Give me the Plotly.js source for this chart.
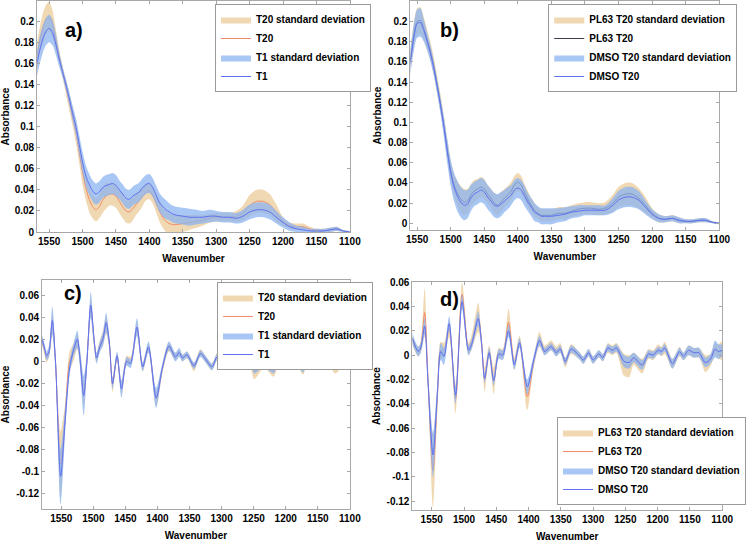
<!DOCTYPE html>
<html><head><meta charset="utf-8">
<script src="https://cdn.plot.ly/plotly-3.0.1.min.js"></script>
<style>html,body{margin:0;padding:0;background:#fff}#chart{width:746px;height:543px}</style>
</head><body><div id="chart"></div>
<script>
// ---------- Panels a) and b): wavenumber grid ----------
const wnAB = [1570,1565,1560,1555,1550,1545,1540,1535,1530,1525,1520,1515,1510,1505,1500,1495,1490,1485,1480,1475,1470,1465,1460,1455,1450,1445,1440,1435,1430,1425,1420,1415,1410,1405,1400,1395,1390,1385,1380,1375,1370,1365,1360,
  1350,1340,1330,1320,1310,1300,1290,1280,1270,1260,1250,1240,1230,1220,1210,1200,1190,1180,1170,1160,1150,1140,1130,1120,1110,1100];

// a) T20 and T1
const aT20 = [0.160,0.178,0.192,0.201,0.204,0.197,0.182,0.166,0.152,0.138,0.124,0.110,0.095,0.076,0.057,0.042,0.031,0.024,0.021,0.024,0.030,0.034,0.036,0.036,0.034,0.029,0.024,0.020,0.019,0.022,0.026,0.030,0.034,0.038,0.039,0.035,0.028,0.020,0.014,0.010,0.008,0.007,0.007,
  0.008,0.009,0.010,0.011,0.013,0.014,0.014,0.014,0.015,0.018,0.025,0.029,0.029,0.026,0.018,0.010,0.006,0.005,0.005,0.003,0.001,0.001,0.002,0.003,0.001,0.000];
const aT20sd = [0.012,0.013,0.014,0.014,0.014,0.013,0.010,0.007,0.006,0.007,0.008,0.009,0.010,0.011,0.012,0.012,0.012,0.011,0.011,0.011,0.012,0.012,0.011,0.011,0.011,0.011,0.011,0.011,0.011,0.011,0.010,0.010,0.009,0.008,0.008,0.008,0.009,0.010,0.010,0.010,0.010,0.009,0.009,
  0.008,0.007,0.006,0.005,0.004,0.004,0.004,0.004,0.005,0.007,0.010,0.011,0.011,0.010,0.008,0.004,0.003,0.003,0.003,0.002,0.002,0.002,0.002,0.002,0.001,0.001];
const aT1 = [0.155,0.170,0.182,0.190,0.193,0.189,0.178,0.164,0.152,0.140,0.127,0.113,0.100,0.083,0.066,0.053,0.045,0.039,0.036,0.038,0.042,0.044,0.045,0.046,0.044,0.040,0.036,0.032,0.031,0.034,0.036,0.038,0.042,0.045,0.046,0.042,0.035,0.028,0.024,0.021,0.019,0.017,0.016,
  0.015,0.014,0.014,0.014,0.015,0.015,0.014,0.014,0.013,0.015,0.019,0.021,0.021,0.019,0.014,0.009,0.005,0.003,0.002,0.001,0.001,0.001,0.002,0.003,0.001,0.000];
const aT1sd = [0.012,0.013,0.013,0.013,0.013,0.012,0.010,0.007,0.005,0.005,0.006,0.007,0.008,0.009,0.010,0.010,0.010,0.010,0.010,0.010,0.010,0.010,0.010,0.010,0.010,0.009,0.009,0.009,0.009,0.009,0.009,0.009,0.009,0.009,0.009,0.009,0.009,0.009,0.009,0.009,0.008,0.008,0.008,
  0.008,0.008,0.007,0.006,0.006,0.005,0.005,0.005,0.005,0.006,0.007,0.007,0.007,0.007,0.006,0.005,0.004,0.003,0.003,0.002,0.002,0.002,0.002,0.002,0.001,0.001];

// b) PL63 T20 and DMSO T20
const bPL63 = [0.130,0.147,0.163,0.186,0.200,0.201,0.193,0.182,0.170,0.155,0.137,0.118,0.097,0.073,0.052,0.038,0.030,0.024,0.021,0.022,0.028,0.032,0.034,0.036,0.034,0.029,0.025,0.020,0.018,0.021,0.025,0.028,0.032,0.038,0.041,0.038,0.031,0.024,0.018,0.013,0.010,0.008,0.008,
  0.008,0.010,0.010,0.012,0.014,0.015,0.015,0.014,0.015,0.019,0.026,0.029,0.029,0.025,0.018,0.010,0.005,0.004,0.005,0.003,0.002,0.002,0.003,0.003,0.001,0.000];
const bPL63sd = [0.012,0.012,0.012,0.013,0.013,0.013,0.011,0.010,0.009,0.009,0.009,0.009,0.009,0.010,0.010,0.011,0.012,0.013,0.013,0.012,0.011,0.011,0.010,0.010,0.010,0.009,0.009,0.010,0.010,0.010,0.009,0.009,0.009,0.009,0.009,0.009,0.008,0.008,0.007,0.007,0.006,0.006,0.006,
  0.006,0.006,0.006,0.006,0.006,0.006,0.006,0.006,0.006,0.008,0.010,0.011,0.011,0.010,0.008,0.005,0.004,0.003,0.003,0.003,0.002,0.002,0.002,0.002,0.001,0.001];
const bDMSO = [0.128,0.145,0.161,0.184,0.198,0.199,0.191,0.180,0.168,0.153,0.135,0.116,0.095,0.071,0.050,0.036,0.027,0.021,0.018,0.019,0.025,0.029,0.031,0.033,0.031,0.026,0.022,0.018,0.017,0.019,0.022,0.025,0.028,0.033,0.035,0.033,0.027,0.021,0.016,0.011,0.009,0.007,0.007,
  0.007,0.008,0.009,0.011,0.012,0.013,0.013,0.013,0.013,0.017,0.023,0.026,0.026,0.023,0.016,0.009,0.005,0.004,0.005,0.003,0.002,0.002,0.003,0.003,0.001,0.000];
const bDMSOsd = [0.012,0.012,0.012,0.013,0.014,0.014,0.011,0.009,0.008,0.007,0.007,0.008,0.010,0.012,0.013,0.014,0.015,0.015,0.015,0.014,0.013,0.012,0.012,0.012,0.012,0.012,0.012,0.012,0.012,0.012,0.011,0.011,0.010,0.010,0.010,0.010,0.010,0.009,0.009,0.009,0.008,0.008,0.008,
  0.008,0.007,0.007,0.006,0.006,0.005,0.005,0.005,0.005,0.007,0.009,0.010,0.010,0.009,0.007,0.005,0.004,0.003,0.003,0.003,0.002,0.002,0.002,0.002,0.001,0.001];

// ---------- Panel c) ----------
const wnC = [1580,1576,1573,1569,1564,1559,1551,1544,1537,1531,1525,1521,1515,1510,1504,1499,1495,1490,1485,1480,1475,1470,1463,1456,1448,1442,1432,1423,1414,1402,1392,1382,1372,1366,1361,1354,1343,1333,1325,1315,1307,1300,1290,1284,1274,1267,1259,1249,1239,1234,1219,1211,1206,1201,1196,1191,1186,1173,1165,1158,1150,1143,1137,1123,1118,1110,1100];
const cT20 = [0.018,0.010,0.003,0.008,0.035,0.000,-0.093,-0.050,0.000,0.008,0.018,0.004,-0.030,0.000,0.049,0.020,0.003,0.014,0.021,0.033,0.016,-0.021,0.004,-0.024,0.001,0.000,0.030,-0.005,0.012,-0.034,-0.006,0.013,0.004,0.008,0.003,0.006,-0.005,0.008,0.002,-0.005,0.004,-0.004,0.003,-0.001,0.006,0.005,0.007,-0.009,-0.004,-0.001,-0.008,0.002,0.004,0.002,0.006,0.003,0.007,-0.007,0.004,0.000,0.006,0.004,0.005,-0.005,-0.004,0.005,0.006];
const cT20sd = [0.004,0.004,0.004,0.004,0.010,0.006,0.030,0.012,0.009,0.008,0.007,0.006,0.012,0.006,0.008,0.006,0.004,0.005,0.007,0.008,0.005,0.007,0.004,0.006,0.004,0.004,0.006,0.004,0.004,0.007,0.004,0.004,0.003,0.003,0.003,0.003,0.004,0.003,0.003,0.003,0.003,0.003,0.003,0.003,0.003,0.003,0.003,0.007,0.005,0.004,0.006,0.004,0.004,0.003,0.004,0.003,0.005,0.005,0.003,0.003,0.004,0.003,0.003,0.006,0.005,0.004,0.005];
const cT1 = [0.020,0.012,0.005,0.009,0.037,0.000,-0.104,-0.054,-0.006,0.010,0.020,0.004,-0.031,0.000,0.051,0.021,0.003,0.013,0.020,0.035,0.017,-0.020,0.005,-0.025,0.000,-0.002,0.031,-0.005,0.013,-0.033,-0.005,0.014,0.004,0.008,0.003,0.006,-0.004,0.007,0.002,-0.005,0.004,-0.004,0.004,-0.001,0.007,0.005,0.007,-0.007,-0.003,-0.001,-0.007,0.002,0.004,0.002,0.006,0.003,0.007,-0.006,0.005,0.000,0.007,0.004,0.005,-0.003,-0.003,0.006,0.007];
const cT1sd = [0.004,0.004,0.004,0.005,0.013,0.008,0.025,0.012,0.006,0.006,0.008,0.008,0.018,0.008,0.012,0.006,0.005,0.005,0.006,0.009,0.005,0.005,0.004,0.008,0.004,0.004,0.008,0.004,0.005,0.009,0.004,0.004,0.004,0.004,0.003,0.003,0.003,0.003,0.003,0.003,0.003,0.003,0.003,0.003,0.003,0.003,0.003,0.004,0.004,0.004,0.004,0.003,0.003,0.003,0.003,0.003,0.004,0.004,0.003,0.003,0.003,0.003,0.003,0.003,0.003,0.005,0.006];

// ---------- Panel d) ----------
const wnD = [1580,1576,1571,1567,1561,1556,1548,1541,1536,1531,1523,1513,1503,1493,1488,1478,1473,1468,1461,1454,1446,1440,1431,1422,1414,1402,1392,1383,1375,1365,1357,1351,1343,1334,1322,1315,1307,1300,1291,1285,1277,1270,1264,1252,1244,1237,1224,1214,1207,1199,1194,1189,1177,1166,1160,1152,1144,1136,1126,1118,1111,1106,1100];
const dPL63 = [0.013,0.007,0.003,0.007,0.035,-0.018,-0.095,-0.032,0.004,0.004,0.022,-0.036,0.050,0.005,0.011,0.031,0.012,-0.020,0.003,-0.021,0.002,0.001,0.027,-0.007,0.011,-0.034,-0.006,0.013,0.004,0.008,0.003,0.006,-0.006,0.005,0.000,-0.004,0.002,-0.004,0.001,-0.002,0.006,0.004,0.006,-0.008,-0.009,-0.003,-0.009,0.001,0.000,0.005,0.003,0.006,-0.007,0.003,-0.001,0.004,0.002,0.002,-0.007,-0.004,0.005,0.003,0.004];
const dPL63sd = [0.004,0.004,0.004,0.005,0.020,0.008,0.030,0.010,0.007,0.006,0.007,0.012,0.010,0.005,0.006,0.012,0.005,0.010,0.005,0.011,0.004,0.004,0.011,0.005,0.005,0.011,0.004,0.006,0.004,0.004,0.004,0.004,0.004,0.004,0.003,0.003,0.003,0.003,0.003,0.003,0.004,0.004,0.004,0.009,0.009,0.005,0.006,0.004,0.004,0.004,0.004,0.005,0.004,0.004,0.003,0.004,0.004,0.004,0.007,0.005,0.005,0.006,0.008];
const dDMSO = [0.014,0.008,0.003,0.006,0.024,-0.020,-0.082,-0.029,0.003,-0.001,0.026,-0.033,0.044,0.004,0.009,0.030,0.011,-0.019,0.002,-0.021,0.001,0.000,0.020,-0.008,0.010,-0.026,-0.004,0.012,0.003,0.007,0.002,0.005,-0.005,0.005,0.000,-0.004,0.002,-0.004,0.001,-0.002,0.006,0.004,0.006,-0.005,-0.006,-0.002,-0.008,0.001,0.000,0.004,0.003,0.006,-0.007,0.003,-0.001,0.004,0.002,0.002,-0.006,-0.003,0.005,0.003,0.004];
const dDMSOsd = [0.005,0.004,0.004,0.004,0.007,0.006,0.018,0.008,0.007,0.007,0.006,0.007,0.006,0.004,0.004,0.006,0.004,0.004,0.004,0.004,0.004,0.004,0.005,0.004,0.004,0.006,0.004,0.004,0.003,0.003,0.003,0.003,0.003,0.003,0.003,0.003,0.003,0.003,0.003,0.003,0.003,0.003,0.003,0.005,0.005,0.004,0.004,0.003,0.003,0.003,0.003,0.003,0.004,0.003,0.003,0.004,0.004,0.004,0.004,0.004,0.007,0.006,0.005];

// ---------- Tick labels ----------
const xTickVals = [1550,1500,1450,1400,1350,1300,1250,1200,1150,1100];
const xTickText = ['1550','1500','1450','1400','1350','1300','1250','1200','1150','1100'];
const yTickValsTop = [0,0.02,0.04,0.06,0.08,0.1,0.12,0.14,0.16,0.18,0.2];
const yTickTextTop = ['0','0.02','0.04','0.06','0.08','0.1','0.12','0.14','0.16','0.18','0.2'];
const yTickValsBot = [-0.12,-0.1,-0.08,-0.06,-0.04,-0.02,0,0.02,0.04,0.06];
const yTickTextBot = ['-0.12','-0.1','-0.08','-0.06','-0.04','-0.02','0','0.02','0.04','0.06'];

// ---------- Names ----------
const namesA = ['T20 standard deviation','T20','T1 standard deviation','T1'];
const namesB = ['PL63 T20 standard deviation','PL63 T20','DMSO T20 standard deviation','DMSO T20'];
const panelLabels = ['a)','b)','c)','d)'];

// ---------- Styles ----------
const TAN = 'rgba(222,168,85,0.45)';
const BLUE = 'rgba(140,180,240,0.75)';
const ORANGE = '#f08a68';
const BLUE_LINE = '#5f70f0';
const FONT = 'Liberation Sans, Arial, sans-serif';
const traces = [];
function band(x, m, s, fill, name, xa, ya, lg) {
  const up = m.map((v, i) => v + s[i]);
  const lo = m.map((v, i) => v - s[i]);
  traces.push({x: x, y: lo, xaxis: xa, yaxis: ya, mode: 'lines', line: {width: 0, shape: 'spline', smoothing: 0.8}, showlegend: false, hoverinfo: 'skip', legend: lg});
  traces.push({x: x, y: up, xaxis: xa, yaxis: ya, mode: 'lines', line: {width: 0, shape: 'spline', smoothing: 0.8}, fill: 'tonexty', fillcolor: fill, name: name, legend: lg});
}
function line(x, m, color, name, xa, ya, lg) {
  traces.push({x: x, y: m, xaxis: xa, yaxis: ya, mode: 'lines', line: {color: color, width: 1, shape: 'spline', smoothing: 0.8}, name: name, legend: lg});
}
band(wnAB, aT20, aT20sd, TAN, namesA[0], 'x', 'y', 'legend');
line(wnAB, aT20, ORANGE, namesA[1], 'x', 'y', 'legend');
band(wnAB, aT1, aT1sd, BLUE, namesA[2], 'x', 'y', 'legend');
line(wnAB, aT1, BLUE_LINE, namesA[3], 'x', 'y', 'legend');

band(wnAB, bPL63, bPL63sd, TAN, namesB[0], 'x2', 'y2', 'legend2');
line(wnAB, bPL63, '#3c3c50', namesB[1], 'x2', 'y2', 'legend2');
band(wnAB, bDMSO, bDMSOsd, BLUE, namesB[2], 'x2', 'y2', 'legend2');
line(wnAB, bDMSO, BLUE_LINE, namesB[3], 'x2', 'y2', 'legend2');

band(wnC, cT20, cT20sd, TAN, namesA[0], 'x3', 'y3', 'legend3');
line(wnC, cT20, ORANGE, namesA[1], 'x3', 'y3', 'legend3');
band(wnC, cT1, cT1sd, BLUE, namesA[2], 'x3', 'y3', 'legend3');
line(wnC, cT1, BLUE_LINE, namesA[3], 'x3', 'y3', 'legend3');

band(wnD, dPL63, dPL63sd, TAN, namesB[0], 'x4', 'y4', 'legend4');
line(wnD, dPL63, ORANGE, namesB[1], 'x4', 'y4', 'legend4');
band(wnD, dDMSO, dDMSOsd, BLUE, namesB[2], 'x4', 'y4', 'legend4');
line(wnD, dDMSO, BLUE_LINE, namesB[3], 'x4', 'y4', 'legend4');

const W = 746, H = 543;
const px = (a, b) => [a / W, b / W];
const py = (top, bot) => [1 - bot / H, 1 - top / H];
const tickFont = {family: FONT, size: 10, color: '#000', weight: 'bold'};
const titleFont = {family: FONT, size: 10, color: '#000', weight: 'bold'};
function xAx(dom, range, anchor) {
  return {domain: dom, range: range, anchor: anchor, tickvals: xTickVals, ticktext: xTickText,
    showline: true, linecolor: '#a8a8a8', linewidth: 1, mirror: 'ticks', ticks: 'inside', ticklen: 3, tickcolor: '#a8a8a8',
    showgrid: false, zeroline: false, tickfont: tickFont, automargin: false,
    title: {text: 'Wavenumber', font: titleFont, standoff: 8}};
}
function yAx(dom, range, anchor, tv, tt) {
  return {domain: dom, range: range, anchor: anchor, tickvals: tv, ticktext: tt,
    showline: true, linecolor: '#a8a8a8', linewidth: 1, mirror: 'ticks', ticks: 'inside', ticklen: 3, tickcolor: '#a8a8a8',
    showgrid: false, zeroline: false, tickfont: tickFont, automargin: false,
    title: {text: 'Absorbance', font: titleFont, standoff: 4}};
}
const legStyle = (x, y, ya) => ({x: x, y: y, xanchor: 'left', yanchor: ya, bgcolor: '#ffffff', bordercolor: '#9a9a9a', borderwidth: 1,
  font: {family: FONT, size: 10, color: '#000', weight: 'bold'}, tracegroupgap: 0, itemwidth: 30, traceorder: 'normal'});

const layout = {
  width: W, height: H, margin: {l: 0, r: 0, t: 0, b: 0}, paper_bgcolor: '#fff', plot_bgcolor: '#fff',
  showlegend: true,
  xaxis: xAx(px(38, 358), [1568, 1100], 'y'),
  yaxis: yAx(py(1, 232), [0, 0.219], 'x', yTickValsTop, yTickTextTop),
  xaxis2: xAx(px(420, 736), [1560, 1100], 'y2'),
  yaxis2: yAx(py(1, 230), [-0.0066, 0.2204], 'x2', yTickValsTop, yTickTextTop),
  xaxis3: xAx(px(43, 358), [1580, 1100], 'y3'),
  yaxis3: yAx(py(280, 509), [-0.1336, 0.0736], 'x3', yTickValsBot, yTickTextBot),
  xaxis4: xAx(px(422, 739), [1580, 1100], 'y4'),
  yaxis4: yAx(py(282, 510), [-0.1274, 0.0602], 'x4', yTickValsBot, yTickTextBot),
  legend: legStyle(220 / W, 1 - 4 / H, 'top'),
  legend2: legStyle(561 / W, 1 - 4 / H, 'top'),
  legend3: legStyle(222 / W, 1 - 282 / H, 'top'),
  legend4: legStyle(570 / W, 1 - 505 / H, 'bottom'),
  annotations: [
    {text: panelLabels[0], x: 76 / W, y: 1 - 30 / H},
    {text: panelLabels[1], x: 460 / W, y: 1 - 30 / H},
    {text: panelLabels[2], x: 75 / W, y: 1 - 293 / H},
    {text: panelLabels[3], x: 460 / W, y: 1 - 299 / H}
  ].map(a => Object.assign(a, {xref: 'paper', yref: 'paper', showarrow: false, xanchor: 'center', yanchor: 'middle',
    font: {family: FONT, size: 20, color: '#000', weight: 'bold'}}))
};
Plotly.newPlot('chart', traces, layout, {staticPlot: true, displayModeBar: false});
</script></body></html>
